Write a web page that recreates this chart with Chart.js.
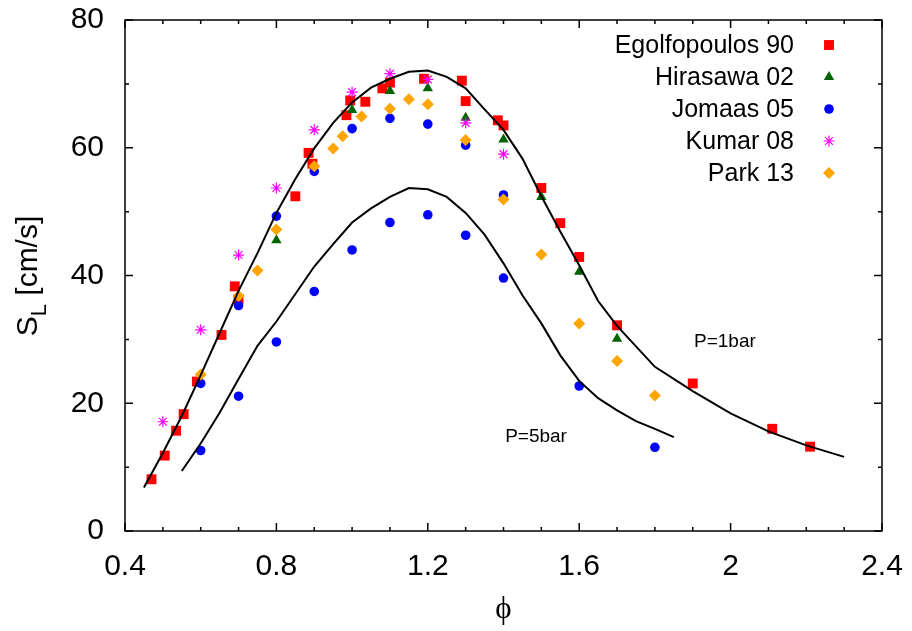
<!DOCTYPE html>
<html>
<head>
<meta charset="utf-8">
<script src="https://cdn.jsdelivr.net/npm/chart.js@4"></script>
<style>
  body { margin: 0; background: #fff; }
  #wrap { width: 912px; height: 631px; }
</style>
</head>
<body>
<div id="wrap"><canvas id="slChart" width="912" height="631"></canvas></div>
<script>
// laminar flame speed measurements, phi vs S_L [cm/s]
const egolfPhi = [0.47, 0.505, 0.535, 0.555, 0.59, 0.655, 0.69, 0.70, 0.85, 0.885, 0.895, 0.985, 0.995, 1.035, 1.08, 1.10, 1.19, 1.29, 1.30, 1.385, 1.40, 1.50, 1.55, 1.60, 1.70, 1.90, 2.11, 2.21];
const egolfSL  = [8.1, 11.8, 15.7, 18.3, 23.4, 30.7, 38.3, 36.3, 52.4, 59.2, 57.5, 65.1, 67.4, 67.2, 69.3, 70.2, 70.8, 70.5, 67.3, 64.3, 63.5, 53.7, 48.2, 42.9, 32.2, 23.1, 16.0, 13.2];

const hiraPhi = [0.8, 1.0, 1.1, 1.2, 1.3, 1.4, 1.5, 1.6, 1.7];
const hiraSL  = [45.5, 65.9, 68.9, 69.3, 64.7, 61.3, 52.3, 40.6, 30.1];

const jomaas1Phi = [0.6, 0.7, 0.8, 0.9, 1.0, 1.1, 1.2, 1.3, 1.4, 1.6, 1.8];
const jomaas1SL  = [23.1, 35.3, 49.3, 56.3, 63.0, 64.6, 63.7, 60.4, 52.6, 22.7, 13.1];
const jomaas5Phi = [0.6, 0.7, 0.8, 0.9, 1.0, 1.1, 1.2, 1.3, 1.4];
const jomaas5SL  = [12.6, 21.1, 29.6, 37.5, 44.0, 48.3, 49.5, 46.3, 39.6];

const kumarPhi = [0.5, 0.6, 0.7, 0.8, 0.9, 1.0, 1.1, 1.2, 1.3, 1.4];
const kumarSL  = [17.1, 31.5, 43.2, 53.7, 62.8, 68.7, 71.6, 70.7, 63.9, 59.0];

const parkPhi = [0.6, 0.7, 0.75, 0.8, 0.9, 0.95, 0.975, 1.025, 1.1, 1.15, 1.2, 1.3, 1.4, 1.5, 1.6, 1.7, 1.8];
const parkSL  = [24.5, 36.8, 40.8, 47.2, 57.1, 59.9, 61.8, 64.9, 66.1, 67.6, 66.8, 61.2, 51.9, 43.3, 32.5, 26.6, 21.2];

// model curves
const model1Phi = [0.45, 0.5, 0.55, 0.6, 0.65, 0.7, 0.75, 0.8, 0.85, 0.9, 0.95, 1.0, 1.05, 1.1, 1.15, 1.2, 1.25, 1.3, 1.35, 1.4, 1.45, 1.5, 1.55, 1.6, 1.65, 1.7, 1.8, 1.9, 2.0, 2.1, 2.2, 2.3];
const model1SL  = [6.8, 12.2, 18.0, 24.4, 31.0, 37.6, 43.5, 49.8, 55.1, 59.9, 63.9, 67.1, 69.4, 70.8, 71.9, 72.1, 71.1, 69.3, 66.0, 62.8, 58.3, 52.4, 46.9, 41.6, 36.0, 32.1, 25.7, 21.9, 18.4, 15.6, 13.4, 11.6];
const model5Phi = [0.55, 0.6, 0.65, 0.7, 0.75, 0.8, 0.85, 0.9, 0.95, 1.0, 1.05, 1.1, 1.15, 1.2, 1.25, 1.3, 1.35, 1.4, 1.45, 1.5, 1.55, 1.6, 1.65, 1.7, 1.75, 1.8, 1.85];
const model5SL  = [9.4, 13.7, 18.5, 23.8, 29.0, 32.8, 37.1, 41.4, 44.9, 48.3, 50.5, 52.3, 53.7, 53.5, 52.3, 49.8, 46.4, 41.9, 36.9, 32.5, 27.5, 23.5, 20.8, 18.9, 17.2, 16.0, 14.7];

const xTicks = [0.4, 0.8, 1.2, 1.6, 2.0, 2.4];
const xTickLabels = ["0.4", "0.8", "1.2", "1.6", "2", "2.4"];
const yTicks = [0, 20, 40, 60, 80];
const yTickLabels = ["0", "20", "40", "60", "80"];

const legendNames = ["Egolfopoulos 90", "Hirasawa 02", "Jomaas 05", "Kumar 08", "Park 13"];

function pts(xs, ys) {
    return xs.map((x, i) => ({ x: x, y: ys[i] }));
}

const FONT = "'Liberation Sans', Arial, sans-serif";

const markers = [
    { pointStyle: "rect", radius: 7, color: "#ff0000", borderWidth: 0 },
    { pointStyle: "triangle", radius: 6, color: "#006400", borderWidth: 0 },
    { pointStyle: "circle", radius: 4.8, color: "#0000ff", borderWidth: 0 },
    { pointStyle: "star", radius: 5.5, color: "#ff00ff", borderWidth: 1.2 },
    { pointStyle: "rectRot", radius: 6, color: "#ffa500", borderWidth: 0 }
];

function pointSet(label, data, m, order) {
    return {
        label: label,
        data: data,
        showLine: false,
        pointStyle: m.pointStyle,
        pointRadius: m.radius,
        pointHoverRadius: m.radius,
        backgroundColor: m.color,
        borderColor: m.color,
        pointBorderWidth: m.borderWidth,
        order: order
    };
}

function lineSet(data) {
    return {
        label: "model",
        data: data,
        type: "line",
        showLine: true,
        borderColor: "#000",
        borderWidth: 2,
        pointRadius: 0,
        tension: 0,
        fill: false,
        order: 0
    };
}

// frame, inward ticks, titles, annotations, legend
const decorations = {
    id: "decorations",
    afterDraw(chart) {
        const ctx = chart.ctx;
        const a = chart.chartArea;
        const xs = chart.scales.x;
        const ys = chart.scales.y;
        ctx.save();
        ctx.strokeStyle = "#000";
        ctx.lineWidth = 1.5;

        ctx.beginPath();
        for (let i = 0; i <= 20; i++) {
            const v = 0.4 + i * 0.1;
            const px = xs.getPixelForValue(v);
            const len = (i % 4 === 0) ? 8 : 4;
            ctx.moveTo(px, a.bottom); ctx.lineTo(px, a.bottom - len);
            ctx.moveTo(px, a.top); ctx.lineTo(px, a.top + len);
        }
        for (let i = 0; i <= 8; i++) {
            const py = ys.getPixelForValue(i * 10);
            const len = (i % 2 === 0) ? 8 : 4;
            ctx.moveTo(a.left, py); ctx.lineTo(a.left + len, py);
            ctx.moveTo(a.right, py); ctx.lineTo(a.right - len, py);
        }
        ctx.stroke();
        ctx.strokeRect(a.left, a.top, a.right - a.left, a.bottom - a.top);

        ctx.fillStyle = "#000";
        // annotations
        ctx.font = "19px " + FONT;
        ctx.textAlign = "center";
        ctx.textBaseline = "middle";
        ctx.fillText("P=1bar", xs.getPixelForValue(1.985), ys.getPixelForValue(29.7));
        ctx.fillText("P=5bar", xs.getPixelForValue(1.486), ys.getPixelForValue(14.7));

        // x title
        ctx.font = "31px 'Liberation Serif', 'DejaVu Serif', serif";
        ctx.fillText("ϕ", (a.left + a.right) / 2, 610);

        // y title with subscript
        ctx.save();
        ctx.translate(37, 276);
        ctx.rotate(-Math.PI / 2);
        ctx.textAlign = "left";
        ctx.textBaseline = "alphabetic";
        const big = "30px " + FONT, small = "22px " + FONT;
        ctx.font = big; const wS = ctx.measureText("S").width;
        const wRest = ctx.measureText(" [cm/s]").width;
        ctx.font = small; const wL = ctx.measureText("L").width;
        let x0 = -(wS + wL + wRest) / 2;
        ctx.font = big; ctx.fillText("S", x0, 0);
        ctx.font = small; ctx.fillText("L", x0 + wS, 9);
        ctx.font = big; ctx.fillText(" [cm/s]", x0 + wS + wL, 0);
        ctx.restore();

        // legend
        ctx.font = "25px " + FONT;
        ctx.textAlign = "right";
        ctx.textBaseline = "middle";
        legendNames.forEach((name, i) => {
            const y = 45 + i * 32;
            ctx.fillStyle = "#000";
            ctx.fillText(name, 794, y + 1);
            const m = markers[i];
            ctx.fillStyle = m.color;
            ctx.strokeStyle = m.color;
            ctx.lineWidth = m.borderWidth;
            Chart.helpers.drawPoint(ctx, {
                pointStyle: m.pointStyle, radius: m.radius, rotation: 0, borderWidth: m.borderWidth
            }, 829, y);
        });
        ctx.restore();
    }
};

new Chart(document.getElementById("slChart"), {
    type: "scatter",
    data: {
        datasets: [
            pointSet(legendNames[0], pts(egolfPhi, egolfSL), markers[0], 6),
            pointSet(legendNames[1], pts(hiraPhi, hiraSL), markers[1], 5),
            pointSet(legendNames[2], pts(jomaas1Phi, jomaas1SL), markers[2], 4),
            pointSet(legendNames[2], pts(jomaas5Phi, jomaas5SL), markers[2], 4),
            pointSet(legendNames[3], pts(kumarPhi, kumarSL), markers[3], 3),
            pointSet(legendNames[4], pts(parkPhi, parkSL), markers[4], 2),
            lineSet(pts(model1Phi, model1SL)),
            lineSet(pts(model5Phi, model5SL))
        ]
    },
    options: {
        responsive: false,
        animation: false,
        devicePixelRatio: 1,
        layout: { padding: { left: 0, right: 30, top: 20, bottom: 0 } },
        plugins: {
            legend: { display: false },
            tooltip: { enabled: false }
        },
        scales: {
            x: {
                type: "linear",
                min: 0.4,
                max: 2.4,
                grid: { display: false, drawTicks: false },
                border: { display: false },
                afterBuildTicks: s => { s.ticks = xTicks.map(v => ({ value: v })); },
                afterFit: s => { s.height = 100; s.paddingLeft = 0; s.paddingRight = 0; },
                ticks: {
                    callback: (v, i) => xTickLabels[i],
                    font: { family: FONT, size: 30 },
                    color: "#000",
                    padding: 18,
                    maxRotation: 0
                }
            },
            y: {
                type: "linear",
                min: 0,
                max: 80,
                grid: { display: false, drawTicks: false },
                border: { display: false },
                afterBuildTicks: s => { s.ticks = yTicks.map(v => ({ value: v })); },
                afterFit: s => { s.width = 125; s.paddingTop = 0; s.paddingBottom = 0; },
                ticks: {
                    callback: (v, i) => yTickLabels[i],
                    font: { family: FONT, size: 30 },
                    color: "#000",
                    padding: 21
                }
            }
        }
    },
    plugins: [decorations]
});
</script>
</body>
</html>
